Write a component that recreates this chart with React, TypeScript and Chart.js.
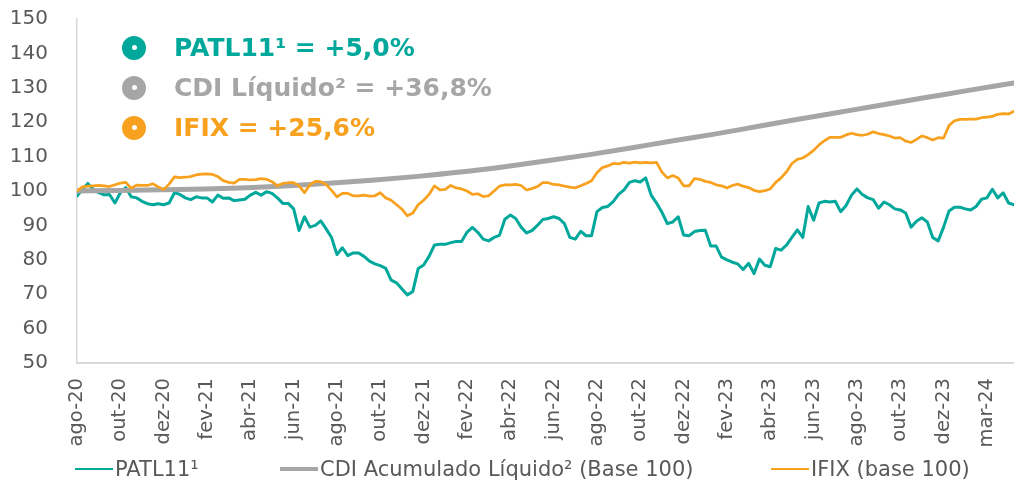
import { useEffect, useRef } from "react";
import { Chart, registerables } from "chart.js";

Chart.register(...registerables);

// x-axis tick labels (one every ~2 months, evenly spaced along the trading-day axis)
const tickLabels = [
  "ago-20", "out-20", "dez-20", "fev-21", "abr-21", "jun-21", "ago-21", "out-21",
  "dez-21", "fev-22", "abr-22", "jun-22", "ago-22", "out-22", "dez-22", "fev-23",
  "abr-23", "jun-23", "ago-23", "out-23", "dez-23", "mar-24",
];
// length of the series measured in tick intervals (data runs slightly past the last label)
const span = 21.625;

// PATL11¹ (base 100), evenly sampled over the period
const patl11 = [
  98.5, 100.5, 102.2, 100.5, 99.5, 98.9, 99, 96.5, 99.5, 101,
  98.3, 98, 97, 96.3, 96, 96.3, 96, 96.5, 99.5, 99,
  98, 97.5, 98.3, 98, 98, 96.8, 98.8, 97.9, 98, 97.2,
  97.4, 97.6, 98.8, 99.6, 98.8, 99.8, 99.3, 98, 96.4, 96.4,
  94.8, 88.5, 92.5, 89.5, 90, 91.3, 89, 86.5, 81.5, 83.5,
  81.2, 82, 82, 81, 79.6, 78.8, 78.3, 77.5, 74.1, 73.3,
  71.5, 69.8, 70.8, 77.5, 78.5, 81, 84.3, 84.5, 84.5, 85,
  85.3, 85.3, 88, 89.4, 88, 86, 85.5, 86.5, 87.1, 91.8,
  93, 92, 89.5, 87.8, 88.5, 90, 91.7, 92, 92.5, 92,
  90.5, 86.5, 86, 88.3, 87, 87, 94, 95.2, 95.5, 96.9,
  99, 100.3, 102.5, 103, 102.6, 103.8, 98.8, 96.5, 93.8, 90.5,
  91, 92.5, 87.2, 87, 88.2, 88.5, 88.6, 84, 84, 80.8,
  80, 79.3, 78.8, 77.2, 79, 76, 80.2, 78.4, 78, 83.3,
  82.8, 84.3, 86.5, 88.7, 86.5, 95.5, 91.5, 96.5, 97, 96.8,
  97, 94, 95.8, 98.8, 100.6, 99, 98, 97.5, 95, 96.8,
  96, 94.8, 94.5, 93.6, 89.5, 91.2, 92.2, 91, 86.5, 85.5,
  89.5, 94.2, 95.3, 95.3, 94.8, 94.5, 95.5, 97.6, 98, 100.5,
  98, 99.5, 96.5, 96,
];

// CDI Acumulado Líquido² (base 100), evenly sampled over the period
const cdi = [
  100, 100.15, 100.35, 100.6, 100.97, 101.55, 102.3, 103.2, 104.25, 105.5,
  107.0, 108.7, 110.5, 112.5, 114.6, 116.6, 118.8, 121.0, 123.1, 125.2,
  127.3, 129.4, 131.4,
];

// IFIX (base 100), evenly sampled over the period
const ifix = [
  100, 101.2, 101.4, 101.5, 101.6, 101.5, 101.3, 101.8, 102.3, 102.5,
  100.8, 101.7, 101.6, 101.6, 102.1, 101.2, 100.4, 102, 104.1, 103.9,
  104, 104.2, 104.7, 104.9, 105, 104.8, 104.2, 103, 102.5, 102.3,
  103.4, 103.4, 103.2, 103.3, 103.6, 103.4, 102.7, 101.5, 102.2, 102.4,
  102.4, 101.5, 99.5, 101.8, 102.8, 102.7, 101.9, 100.2, 98.3, 99.3,
  99.3, 98.6, 98.6, 98.8, 98.5, 98.6, 99.5, 98, 97.3, 96,
  94.7, 92.8, 93.6, 96, 97.3, 99, 101.5, 100.3, 100.5, 101.6,
  100.9, 100.6, 100, 99, 99.2, 98.4, 98.6, 100, 101.4, 101.8,
  101.8, 101.9, 101.6, 100.3, 100.7, 101.3, 102.4, 102.4, 101.9, 101.8,
  101.4, 101.1, 100.9, 101.5, 102.2, 103, 105.3, 106.8, 107.3, 108,
  107.9, 108.3, 108.1, 108.4, 108.2, 108.3, 108.2, 108.3, 105.5, 103.8,
  104.5, 103.8, 101.5, 101.5, 103.6, 103.4, 102.8, 102.5, 101.8, 101.5,
  100.9, 101.6, 102, 101.4, 101, 100.2, 99.8, 100.1, 100.6, 102.5,
  103.8, 105.6, 108, 109.2, 109.6, 110.6, 111.8, 113.4, 114.6, 115.6,
  115.6, 115.6, 116.3, 116.8, 116.4, 116.2, 116.5, 117.2, 116.7, 116.4,
  116, 115.4, 115.5, 114.5, 114.1, 115, 116, 115.5, 114.8, 115.5,
  115.4, 119, 120.4, 120.8, 120.8, 120.9, 120.9, 121.3, 121.5, 121.7,
  122.3, 122.5, 122.4, 123.2,
];

const seriesNames = ["PATL11¹", "CDI Acumulado Líquido² (Base 100)", "IFIX (base 100)"];
const summaryTexts = ["PATL11¹ = +5,0%", "CDI Líquido² = +36,8%", "IFIX = +25,6%"];

const TEAL = "#00A79B";
const GRAY = "#A6A6A6";
const ORANGE = "#F7A11E";
const TEXT = "#595959";
const AXIS = "#D9D9D9";
const FONT = "'DejaVu Sans', Verdana, sans-serif";

function toPoints(values: number[]) {
  const step = span / (values.length - 1);
  return values.map((y, i) => ({ x: i * step, y }));
}

const seriesColors = [TEAL, GRAY, ORANGE];
const seriesWidths = [3, 5, 2.75];

export default function App() {
  const ref = useRef<HTMLCanvasElement>(null);

  useEffect(() => {
    if (!ref.current) return;
    const chart = new Chart(ref.current, {
      type: "line",
      data: {
        datasets: [
          {
            label: seriesNames[2],
            data: toPoints(ifix),
            borderColor: ORANGE,
            borderWidth: seriesWidths[2],
            pointRadius: 0,
            tension: 0,
            order: 0,
          },
          {
            label: seriesNames[1],
            data: toPoints(cdi),
            borderColor: GRAY,
            borderWidth: seriesWidths[1],
            pointRadius: 0,
            cubicInterpolationMode: "monotone",
            order: 1,
          },
          {
            label: seriesNames[0],
            data: toPoints(patl11),
            borderColor: TEAL,
            borderWidth: seriesWidths[0],
            pointRadius: 0,
            tension: 0,
            order: 2,
          },
        ],
      },
      options: {
        animation: false,
        responsive: false,
        maintainAspectRatio: false,
        layout: { padding: { left: 0, right: 0, top: 19, bottom: 0 }, autoPadding: false },
        plugins: { legend: { display: false }, tooltip: { enabled: false } },
        elements: { line: { borderJoinStyle: "round", borderCapStyle: "round" } },
        scales: {
          x: {
            type: "linear",
            min: 0,
            max: span,
            afterBuildTicks: (axis: any) => {
              axis.ticks = tickLabels.map((_, i) => ({ value: i }));
            },
            afterFit: (s: any) => {
              s.height = 121;
              s.paddingLeft = 0;
              s.paddingRight = 0;
            },
            ticks: {
              autoSkip: false,
              minRotation: 90,
              maxRotation: 90,
              padding: 15,
              color: TEXT,
              font: { family: FONT, size: 19.5 },
              callback: (v: any) => tickLabels[v as number] ?? "",
            },
            grid: { drawOnChartArea: false, drawTicks: false },
            border: { color: AXIS, width: 2 },
          },
          y: {
            min: 50,
            max: 150,
            afterFit: (s: any) => {
              s.width = 77;
              s.paddingTop = 0;
              s.paddingBottom = 0;
              if (s._margins) {
                s._margins.top = 0;
                s._margins.bottom = 0;
              }
            },
            ticks: {
              stepSize: 10,
              padding: 29,
              color: TEXT,
              font: { family: FONT, size: 20 },
            },
            grid: { drawOnChartArea: false, drawTicks: false },
            border: { color: AXIS, width: 1.5 },
          },
        },
      },
    });
    return () => chart.destroy();
  }, []);

  const legendLefts = [75, 280, 771];

  return (
    <div style={{ position: "fixed", left: 0, top: 0, width: 1014, height: 484, background: "#fff" }}>
      <canvas ref={ref} width={1014} height={484} style={{ display: "block" }} />
      {summaryTexts.map((t, i) => (
        <div
          key={t}
          style={{
            position: "absolute",
            left: 122,
            top: 47.5 + 40 * i - 16,
            height: 32,
            display: "flex",
            alignItems: "center",
            whiteSpace: "nowrap",
          }}
        >
          <div
            style={{
              width: 24,
              height: 24,
              borderRadius: "50%",
              background: seriesColors[i],
              display: "flex",
              alignItems: "center",
              justifyContent: "center",
            }}
          >
            <div style={{ width: 5, height: 5, borderRadius: "50%", background: "#fff" }} />
          </div>
          <span
            style={{
              marginLeft: 28,
              fontFamily: FONT,
              fontWeight: "bold",
              fontSize: 25,
              color: seriesColors[i],
              lineHeight: "32px",
            }}
          >
            {t}
          </span>
        </div>
      ))}
      {seriesNames.map((n, i) => (
        <div
          key={n}
          style={{
            position: "absolute",
            left: legendLefts[i],
            top: 469 - 14,
            height: 28,
            display: "flex",
            alignItems: "center",
            whiteSpace: "nowrap",
          }}
        >
          <div style={{ width: 38, height: i === 1 ? 4.5 : 2.5, background: seriesColors[i] }} />
          <span
            style={{
              marginLeft: 2,
              fontFamily: FONT,
              fontSize: 21,
              color: TEXT,
              lineHeight: "28px",
            }}
          >
            {n}
          </span>
        </div>
      ))}
    </div>
  );
}
